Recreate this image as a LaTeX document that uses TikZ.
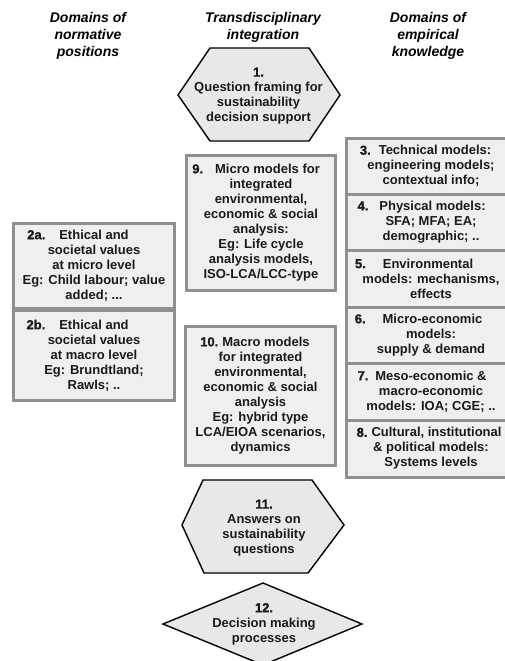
\documentclass[tikz,border=0pt]{standalone}
\usepackage{fontspec}
\setmainfont{Liberation Sans}
\newfontfamily\numfont[FakeBold=1.3]{Liberation Sans Bold}

\definecolor{boxfill}{HTML}{EFEFEF}
\definecolor{boxedge}{HTML}{8F8F8F}
\definecolor{shapefill}{HTML}{E8E8E8}
\definecolor{ink}{HTML}{1A1A1A}

% number in front of a first line: #1 number, #2 gap to the text, #3 shift of the line
\newcommand\numlab[3]{\hspace*{#3}\llap{{\numfont #1}\hspace{#2}}}

\tikzset{
  head/.style={align=center, inner sep=0pt, text=black,
    font=\bfseries\itshape\fontsize{14}{17}\selectfont},
  mbox/.style={rectangle, draw=boxedge, line width=3pt, fill=boxfill,
    inner sep=0pt, align=center, text=ink,
    font=\bfseries\fontsize{13}{15}\selectfont},
  stepshape/.style={draw=black, line width=1.4pt, fill=shapefill, line join=miter},
  shapetext/.style={align=center, inner sep=0pt, text=ink,
    font=\bfseries\fontsize{13}{15}\selectfont},
}

\begin{document}
\begin{tikzpicture}[x=1pt, y=-1pt]
\useasboundingbox (0,0) rectangle (505,661);

% column headings
\node[head] (hnorm) at (88,35.5) {Domains of\\normative\\positions};
\node[head] (hint)  at (263,27) {Transdisciplinary\\integration};
\node[head] (hemp)  at (428,35.5) {Domains of\\empirical\\knowledge};

% 1. question framing
\draw[stepshape] (178,95) -- (210,48) -- (309,48) -- (340,95) -- (309,141) -- (210,141) -- cycle;
\node[shapetext] (q1) at (258.5,96) {{\numfont 1.}\\Question framing for\\sustainability\\decision support};

% normative domains
\node[mbox, minimum width=161pt, minimum height=85pt] (n2a) at (94,265.5)
  {\numlab{2a.}{14pt}{0pt}Ethical and\\societal values\\at micro level\\Eg: Child labour; value\\added; ...};
\node[mbox, minimum width=161pt, minimum height=90pt] (n2b) at (94,355.5)
  {\numlab{2b.}{14pt}{0pt}Ethical and\\societal values\\at macro level\\Eg: Brundtland;\\Rawls; ..};

% integration models
\node[mbox, minimum width=149pt, minimum height=135pt] (m9) at (261,222.5)
  {\numlab{9.}{12pt}{13pt}Micro models for\\integrated\\environmental,\\economic \& social\\analysis:\\Eg: Life cycle\\analysis models,\\ISO-LCA/LCC-type};
\node[mbox, minimum width=150pt, minimum height=139pt] (m10) at (260.5,395.5)
  {\numlab{10.}{4pt}{11pt}Macro models\\for integrated\\environmental,\\economic \& social\\analysis\\Eg: hybrid type\\LCA/EIOA scenarios,\\dynamics};

% empirical domains
\node[mbox, minimum width=169pt, minimum height=56pt] (e3) at (431,166)
  {\numlab{3.}{8pt}{8pt}Technical models:\\engineering models;\\contextual info;};
\node[mbox, minimum width=169pt, minimum height=56pt] (e4) at (431,222)
  {\numlab{4.}{11pt}{3pt}Physical models:\\SFA; MFA; EA;\\demographic; ..};
\node[mbox, minimum width=169pt, minimum height=57pt] (e5) at (431,278.5)
  {\numlab{5.}{17pt}{-6pt}Environmental\\models: mechanisms,\\effects};
\node[mbox, minimum width=169pt, minimum height=56pt] (e6) at (431,335)
  {\numlab{6.}{17pt}{3pt}Micro-economic\\models:\\supply \& demand};
\node[mbox, minimum width=169pt, minimum height=57pt] (e7) at (431,391.5)
  {\numlab{7.}{7pt}{0pt}Meso-economic \&\\macro-economic\\models: IOA; CGE; ..};
\node[mbox, minimum width=169pt, minimum height=57pt] (e8) at (431,448.5)
  {\numlab{8.}{4pt}{11pt}Cultural, institutional\\\& political models:\\Systems levels};

% 11. answers
\draw[stepshape] (182,525) -- (203,480) -- (312,480) -- (344,525) -- (308,573) -- (204,573) -- cycle;
\node[shapetext] (a11) at (264,528) {{\numfont 11.}\\Answers on\\sustainability\\questions};

% 12. decision making
\draw[stepshape] (263,583) -- (362,624) -- (263,665) -- (163,624) -- cycle;
\node[shapetext] (d12) at (264,624) {{\numfont 12.}\\Decision making\\processes};
\end{tikzpicture}
\end{document}
